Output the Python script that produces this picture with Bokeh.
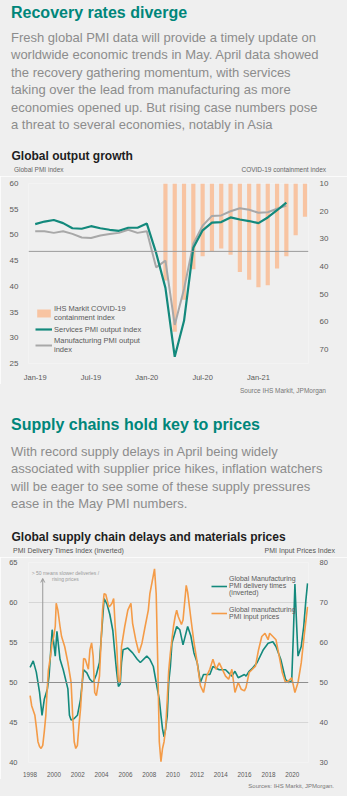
from bokeh.plotting import figure
from bokeh.models import (Range1d, LinearAxis, FixedTicker, Span, Legend, LegendItem,
                          Div, Label, Arrow, OpenHead, ColumnDataSource)
from bokeh.layouts import column
from bokeh.embed import file_html
from bokeh.resources import INLINE

# ---------------- data: chart 1 ----------------
months = ["Jan-19", "Feb-19", "Mar-19", "Apr-19", "May-19", "Jun-19", "Jul-19", "Aug-19",
          "Sep-19", "Oct-19", "Nov-19", "Dec-19", "Jan-20", "Feb-20", "Mar-20", "Apr-20",
          "May-20", "Jun-20", "Jul-20", "Aug-20", "Sep-20", "Oct-20", "Nov-20", "Dec-20",
          "Jan-21", "Feb-21", "Mar-21", "Apr-21", "May-21", "Jun-21"]
services_pmi = [52.1, 52.6, 52.9, 52.3, 51.3, 51.2, 51.7, 51.3, 51.0, 50.8, 51.4, 51.4,
                52.2, 46.5, 39.7, 26.3, 33.3, 47.5, 50.9, 52.4, 52.5, 53.4, 53.0, 52.7,
                52.3, 53.4, 54.8, 56.3]
manufacturing_pmi = [50.7, 50.7, 50.4, 50.7, 50.2, 49.5, 49.4, 49.9, 50.2, 50.4, 51.0, 50.4,
                     50.7, 43.7, 45.0, 32.5, 39.5, 48.3, 51.8, 53.7, 53.8, 54.6, 55.2, 54.9,
                     54.3, 54.4, 55.1, 55.7]
containment_months = months[14:]
containment_index = [45.0, 63.5, 52.0, 41.0, 36.3, 34.5, 33.5, 35.7, 42.0, 44.8, 47.5, 46.7,
                     40.7, 36.3, 28.7, 22.0]
ref_level_1 = 46.8
x_label_months = ["Jan-19", "Jul-19", "Jan-20", "Jul-20", "Jan-21"]

# ---------------- data: chart 2 ----------------
deliv_t = [1998.00, 1998.26, 1998.52, 1998.79, 1998.92, 1999.00, 1999.19, 1999.45, 1999.59,
           1999.85, 2000.11, 2000.25, 2000.51, 2000.78, 2001.17, 2001.30, 2001.44, 2001.70,
           2001.97, 2002.23, 2002.49, 2002.76, 2003.02, 2003.29, 2003.56, 2003.82, 2004.21,
           2004.45, 2004.69, 2004.94, 2005.09, 2005.25, 2005.41, 2005.56, 2005.67, 2005.80,
           2006.20, 2006.60, 2006.99, 2007.25, 2007.79, 2008.05, 2008.34, 2008.58, 2008.84,
           2008.98, 2009.11, 2009.24, 2009.37, 2009.51, 2009.63, 2009.77, 2009.90, 2010.30,
           2010.56, 2010.83, 2011.22, 2011.49, 2011.75, 2012.02, 2012.29, 2012.55, 2013.08,
           2013.34, 2013.87, 2014.40, 2014.93, 2015.19, 2015.46, 2015.98, 2016.12, 2016.38,
           2016.67, 2017.05, 2017.57, 2017.97, 2018.37, 2018.63, 2019.03, 2019.43, 2019.69,
           2019.95, 2020.09, 2020.22, 2020.37, 2020.48, 2020.75, 2020.96, 2021.14, 2021.28]
deliv_v = [51.9, 52.7, 51.3, 48.8, 47.0, 45.9, 47.9, 49.2, 50.8,
           56.6, 53.3, 56.4, 52.9, 51.6, 49.2, 45.9, 45.3, 45.5,
           45.9, 47.9, 51.6, 51.2, 50.4, 50.0, 51.0, 52.5, 60.5,
           59.8, 58.5, 56.5, 54.0, 51.5, 49.5, 49.8, 52.5, 54.1,
           54.3, 53.7, 52.9, 52.5, 53.3, 52.9, 52.0, 50.0, 47.9,
           45.9, 44.2, 43.2, 44.2, 45.9, 50.0, 52.0, 54.9, 57.0,
           56.6, 54.7, 57.0, 55.8, 53.7, 52.5, 50.0, 51.0, 51.0,
           52.0, 51.6, 51.6, 50.8, 51.4, 50.6, 51.0, 50.8, 51.4,
           51.8, 52.5, 54.1, 54.9, 55.1, 54.5, 52.9, 50.4, 50.0,
           50.2, 56.0, 62.3, 57.0, 53.3, 54.5, 57.0, 60.3, 62.4]
price_t = [1998.00, 1998.13, 1998.40, 1998.52, 1998.66, 1998.79, 1998.92, 1999.06, 1999.19,
           1999.32, 1999.41, 1999.53, 1999.71, 1999.85, 1999.98, 2000.11, 2000.19, 2000.33,
           2000.51, 2000.64, 2000.90, 2001.17, 2001.44, 2001.57, 2001.70, 2001.83, 2001.97,
           2002.10, 2002.23, 2002.37, 2002.49, 2002.63, 2002.89, 2003.02, 2003.16, 2003.29,
           2003.42, 2003.56, 2003.82, 2003.95, 2004.08, 2004.21, 2004.35, 2004.61, 2004.75,
           2004.87, 2005.01, 2005.14, 2005.27, 2005.40, 2005.54, 2005.67, 2005.94, 2006.20,
           2006.46, 2006.60, 2006.86, 2007.13, 2007.39, 2007.65, 2007.92, 2008.05, 2008.26,
           2008.44, 2008.58, 2008.71, 2008.84, 2008.98, 2009.11, 2009.24, 2009.37, 2009.51,
           2009.63, 2009.77, 2009.90, 2010.03, 2010.17, 2010.30, 2010.43, 2010.70, 2010.83,
           2011.10, 2011.22, 2011.49, 2011.75, 2012.02, 2012.29, 2012.55, 2012.81, 2013.08,
           2013.34, 2013.60, 2013.87, 2014.13, 2014.40, 2014.66, 2014.93, 2015.19, 2015.46,
           2015.72, 2015.98, 2016.12, 2016.38, 2016.65, 2016.91, 2017.17, 2017.44, 2017.71,
           2017.97, 2018.10, 2018.37, 2018.63, 2018.90, 2019.16, 2019.43, 2019.69, 2019.95,
           2020.22, 2020.48, 2020.75, 2021.02, 2021.28]
price_v = [46.7, 44.2, 41.8, 38.9, 35.2, 34.0, 33.5, 34.3, 37.7,
           41.8, 47.0, 53.0, 56.6, 59.9, 61.5, 64.0, 69.8, 68.1,
           64.0, 61.5, 59.0, 55.0, 50.0, 41.8, 35.2, 33.5, 34.3,
           39.3, 43.4, 50.0, 56.0, 55.8, 53.3, 58.2, 59.9, 56.6,
           47.5, 46.7, 51.6, 59.9, 68.1, 72.2, 72.0, 68.9, 69.3,
           69.8, 71.0, 64.0, 59.0, 50.5, 50.0, 59.0, 64.0, 68.1,
           69.8, 64.8, 60.7, 57.4, 59.9, 64.0, 68.1, 72.2, 75.5,
           78.4, 72.2, 55.0, 35.2, 30.2, 33.5, 35.2, 38.5, 45.9,
           53.0, 57.4, 60.7, 64.0, 66.5, 68.1, 66.5, 64.5, 65.6,
           74.3, 72.6, 66.0, 60.0, 55.0, 49.2, 47.5, 51.6, 53.3,
           55.8, 53.3, 54.9, 53.3, 51.6, 50.8, 53.3, 47.5, 50.0,
           48.3, 47.9, 48.8, 52.5, 53.3, 54.1, 58.2, 61.5, 62.3,
           60.7, 62.3, 61.5, 60.7, 56.6, 52.5, 50.0, 50.4, 51.2,
           47.5, 50.0, 54.9, 62.3, 68.9]
year_ticks = [1998, 2000, 2002, 2004, 2006, 2008, 2010, 2012, 2014, 2016, 2018, 2020]
ref_level_2 = 50
arrow_year = 1999.06

# ---------------- styles ----------------
BG = "#efefef"
TEAL = "#13897c"
GREY_LINE = "#a8a8a8"
PEACH = "#f8c4a2"
ORANGE = "#f49b47"
FONT = "Liberation Sans"
TICK_COL = "#5a5a5a"


def text_div(html, height):
    return Div(text=html, width=347, height=height, margin=0,
               styles={"background-color": BG, "overflow": "hidden"})


def block(top, size, lh, color, inner, weight="normal", left=11):
    return (f'<div style="position:absolute;left:{left}px;top:{top}px;font-family:\'{FONT}\',Arial;'
            f'font-size:{size}px;line-height:{lh}px;color:{color};font-weight:{weight};'
            f'white-space:nowrap;">{inner}</div>')


def rblock(top, size, lh, color, inner, right):
    return (f'<div style="position:absolute;right:{right}px;top:{top}px;font-family:\'{FONT}\',Arial;'
            f'font-size:{size}px;line-height:{lh}px;color:{color};'
            f'white-space:nowrap;">{inner}</div>')


def wrap(inner, h):
    return f'<div style="position:relative;width:347px;height:{h}px;">{inner}</div>'


# ---------------- section 1 text ----------------
para1 = ("Fresh global PMI data will provide a timely update on<br>"
         "worldwide economic trends in May. April data showed<br>"
         "the recovery gathering momentum, with services<br>"
         "taking over the lead from manufacturing as more<br>"
         "economies opened up. But rising case numbers pose<br>"
         "a threat to several economies, notably in Asia")
div1 = text_div(wrap(
    block(3, 16, 20, "#00867a", "Recovery rates diverge", "bold") +
    block(28.6, 13, 17.5, "#8c8c8c", para1) +
    block(148.5, 12, 15, "#1e1e1e", "Global output growth", "bold", left=11.5), 163), 163)

axt1 = text_div(wrap(
    block(0, 6.5, 13, "#666666", "Global PMI index", left=14) +
    rblock(0, 6.5, 13, "#666666", "COVID-19 containment index", 21), 13), 13)

# ---------------- chart 1 ----------------
xi = list(range(len(months)))
p1 = figure(width=347, height=208, x_range=Range1d(-0.72, 29.38), y_range=Range1d(25, 60),
            output_backend="svg", toolbar_location=None,
            min_border_left=28, min_border_right=39, min_border_top=7, min_border_bottom=14,
            background_fill_color=BG, border_fill_color=BG, outline_line_color=None)
p1.extra_y_ranges = {"cont": Range1d(start=75, end=10)}

cont_src = ColumnDataSource(dict(x=[months.index(m) for m in containment_months],
                                 v=containment_index,
                                 base=[10] * len(containment_index)))
bars = p1.vbar(x="x", width=0.45, top="base", bottom="v", source=cont_src,
               y_range_name="cont", fill_color=PEACH, line_color=None)
p1.add_layout(Span(location=ref_level_1, dimension="width", line_color="#9a9a9a", line_width=1))
man = p1.line(xi[:len(manufacturing_pmi)], manufacturing_pmi, line_color=GREY_LINE, line_width=2)
srv = p1.line(xi[:len(services_pmi)], services_pmi, line_color=TEAL, line_width=2.2)

p1.yaxis.ticker = FixedTicker(ticks=[25, 30, 35, 40, 45, 50, 55, 60])
p1.xaxis.ticker = FixedTicker(ticks=[months.index(m) for m in x_label_months])
p1.xaxis.major_label_overrides = {months.index(m): m for m in x_label_months}
right1 = LinearAxis(y_range_name="cont", ticker=FixedTicker(ticks=[10, 20, 30, 40, 50, 60, 70]))
p1.add_layout(right1, "right")
for ax in [p1.xaxis[0], p1.yaxis[0], right1]:
    ax.axis_line_color = None
    ax.major_tick_line_color = None
    ax.minor_tick_line_color = None
    ax.major_label_text_font = FONT
    ax.major_label_text_color = TICK_COL
    ax.major_label_text_font_size = "8px"
p1.xaxis.major_label_text_font_size = "7.5px"
p1.xaxis.major_label_standoff = 3
p1.yaxis[0].major_label_standoff = 4
right1.major_label_standoff = 5
p1.xgrid.grid_line_color = None
p1.ygrid.grid_line_color = None

leg1 = Legend(items=[LegendItem(label="IHS Markit COVID-19\ncontainment index", renderers=[bars]),
                     LegendItem(label="Services PMI output index", renderers=[srv]),
                     LegendItem(label="Manufacturing PMI output\nindex", renderers=[man])],
              location=(7, 9), orientation="vertical", padding=0, margin=0, spacing=2,
              glyph_width=17, glyph_height=10, label_standoff=2, label_height=10,
              label_text_font=FONT, label_text_font_size="7.5px", label_text_color=TICK_COL,
              label_text_line_height=1.15,
              background_fill_alpha=0, border_line_alpha=0)
p1.add_layout(leg1)

src1 = text_div(wrap(rblock(0, 6.5, 14, "#777777", "Source IHS Markit, JPMorgan", 21), 16), 16)

# ---------------- section 2 text ----------------
para2 = ("With record supply delays in April being widely<br>"
         "associated with supplier price hikes, inflation watchers<br>"
         "will be eager to see some of these supply pressures<br>"
         "ease in the May PMI numbers.")
div2 = text_div(wrap(
    block(15.4, 16, 20, "#00867a", "Supply chains hold key to prices", "bold") +
    block(42.9, 13, 17.4, "#8c8c8c", para2) +
    block(130.2, 12, 15, "#1e1e1e", "Global supply chain delays and materials prices", "bold",
          left=11.5),
    145), 145)

axt2 = text_div(wrap(
    block(0, 7, 12, "#555555", "PMI Delivery Times Index (inverted)", left=13) +
    rblock(0, 7, 12, "#555555", "PMI Input Prices Index", 12), 12), 12)

# ---------------- chart 2 ----------------
p2 = figure(width=347, height=222, x_range=Range1d(1997.865, 2021.36), y_range=Range1d(40, 65),
            output_backend="svg", toolbar_location=None,
            min_border_left=25, min_border_right=26, min_border_top=5, min_border_bottom=15,
            background_fill_color=BG, border_fill_color=BG, outline_line_color=None)
p2.extra_y_ranges = {"price": Range1d(30, 80)}
p2.ygrid.ticker = FixedTicker(ticks=[40, 45, 55, 60, 65])
p2.ygrid.grid_line_color = "#d6d6d6"
p2.xgrid.grid_line_color = None
p2.add_layout(Span(location=ref_level_2, dimension="width", line_color="#8f8f8f", line_width=1))

dl = p2.line(deliv_t, deliv_v, line_color=TEAL, line_width=1.6)
pl = p2.line(price_t, price_v, line_color=ORANGE, line_width=1.6, y_range_name="price")

p2.add_layout(Arrow(x_start=arrow_year, y_start=ref_level_2, x_end=arrow_year, y_end=63.0,
                    line_color="#999999", line_width=1,
                    end=OpenHead(size=4, line_color="#999999", line_width=1)))
p2.add_layout(Label(x=2000.96, y=64.1, text="> 50 means slower deliveries /\nrising prices",
                    text_align="center", text_baseline="top", text_font=FONT,
                    text_font_size="5px", text_color="#9a9a9a", text_line_height=1.1))

p2.yaxis.ticker = FixedTicker(ticks=[40, 45, 50, 55, 60, 65])
p2.xaxis.ticker = FixedTicker(ticks=year_ticks)
p2.xaxis.major_label_overrides = {y: str(y) for y in year_ticks}
right2 = LinearAxis(y_range_name="price", ticker=FixedTicker(ticks=[30, 40, 50, 60, 70, 80]))
p2.add_layout(right2, "right")
for ax in [p2.xaxis[0], p2.yaxis[0], right2]:
    ax.axis_line_color = None
    ax.major_tick_line_color = None
    ax.minor_tick_line_color = None
    ax.major_label_text_font = FONT
    ax.major_label_text_color = TICK_COL
    ax.major_label_text_font_size = "7.5px"
p2.xaxis.major_label_text_font_size = "6.3px"
p2.xaxis.major_label_standoff = 3
p2.yaxis[0].major_label_standoff = 5
right2.major_label_standoff = 5

leg2 = Legend(items=[LegendItem(label="Global Manufacturing\nPMI delivery times\n(inverted)", renderers=[dl]),
                     LegendItem(label="Global manufacturing\nPMI input prices", renderers=[pl])],
              location=(183, 142), orientation="vertical", padding=0, margin=0, spacing=10,
              glyph_width=16, glyph_height=8, label_standoff=2, label_height=8,
              label_text_font=FONT, label_text_font_size="7px", label_text_color=TICK_COL,
              label_text_line_height=1.1,
              background_fill_alpha=0, border_line_alpha=0)
p2.add_layout(leg2)

src2 = text_div(wrap(rblock(0, 6, 15, "#777777", "Sources: IHS Markit, JPMorgan.", 13), 17), 17)

layout = column(div1, axt1, p1, src1, div2, axt2, p2, src2, spacing=0, margin=0)
open("out.html", "w").write(file_html(layout, INLINE))
